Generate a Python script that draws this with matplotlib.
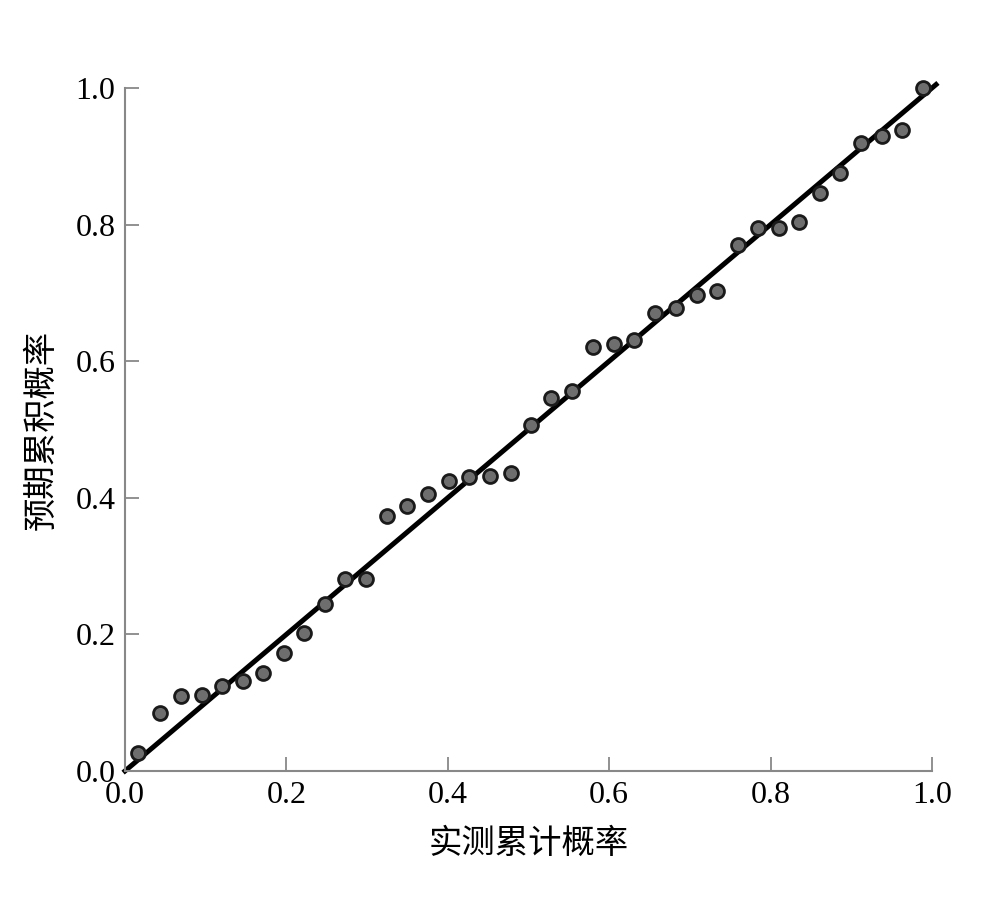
import matplotlib
matplotlib.use("Agg")
import matplotlib.pyplot as plt

observed = [0.016, 0.043, 0.069, 0.095, 0.120, 0.146, 0.171, 0.197, 0.222, 0.248,
            0.273, 0.299, 0.325, 0.350, 0.375, 0.401, 0.426, 0.452, 0.478, 0.503,
            0.528, 0.554, 0.580, 0.606, 0.631, 0.657, 0.683, 0.709, 0.734, 0.760,
            0.784, 0.810, 0.835, 0.861, 0.886, 0.912, 0.938, 0.963, 0.989]
expected = [0.026, 0.085, 0.110, 0.111, 0.124, 0.132, 0.143, 0.173, 0.202, 0.245,
            0.281, 0.281, 0.373, 0.388, 0.406, 0.425, 0.430, 0.432, 0.436, 0.507,
            0.546, 0.556, 0.621, 0.625, 0.631, 0.671, 0.678, 0.697, 0.703, 0.770,
            0.795, 0.795, 0.804, 0.846, 0.876, 0.919, 0.930, 0.938, 1.000]
ref_line = [0.0, 1.005]
ticks = [0.0, 0.2, 0.4, 0.6, 0.8, 1.0]
tick_labels = ["0.0", "0.2", "0.4", "0.6", "0.8", "1.0"]
xlabel = "实测累计概率"
ylabel = "预期累积概率"

fig = plt.figure(figsize=(10.04, 9.21), dpi=100)
ax = fig.add_axes([0.1245, 0.1629, 0.8038, 0.7416])

ax.plot(ref_line, ref_line, color="black", lw=3.6, zorder=2, clip_on=False)
ax.plot(observed, expected, linestyle="none", marker="o", markersize=10,
        markerfacecolor="#6e6e6e", markeredgecolor="#1a1a1a", markeredgewidth=2.0,
        zorder=3, clip_on=False)

ax.set_xlim(0, 1)
ax.set_ylim(0, 1)
ax.set_xticks(ticks)
ax.set_yticks(ticks)
serif = ["Liberation Serif", "DejaVu Serif"]
ax.set_xticklabels(tick_labels, family=serif, fontsize=23)
ax.set_yticklabels(tick_labels, family=serif, fontsize=23)
ax.tick_params(direction="in", length=10, width=1.3, color="#888888", pad=7)

for s in ["top", "right"]:
    ax.spines[s].set_visible(False)
for s in ["left", "bottom"]:
    ax.spines[s].set_color("#888888")
    ax.spines[s].set_linewidth(1.5)

cjk = ["Noto Sans CJK SC", "DejaVu Sans"]
ax.set_xlabel(xlabel, family=cjk, fontsize=24, labelpad=12)
ax.set_ylabel(ylabel, family=cjk, fontsize=24, labelpad=12)

fig.savefig("out.png", dpi=100)
